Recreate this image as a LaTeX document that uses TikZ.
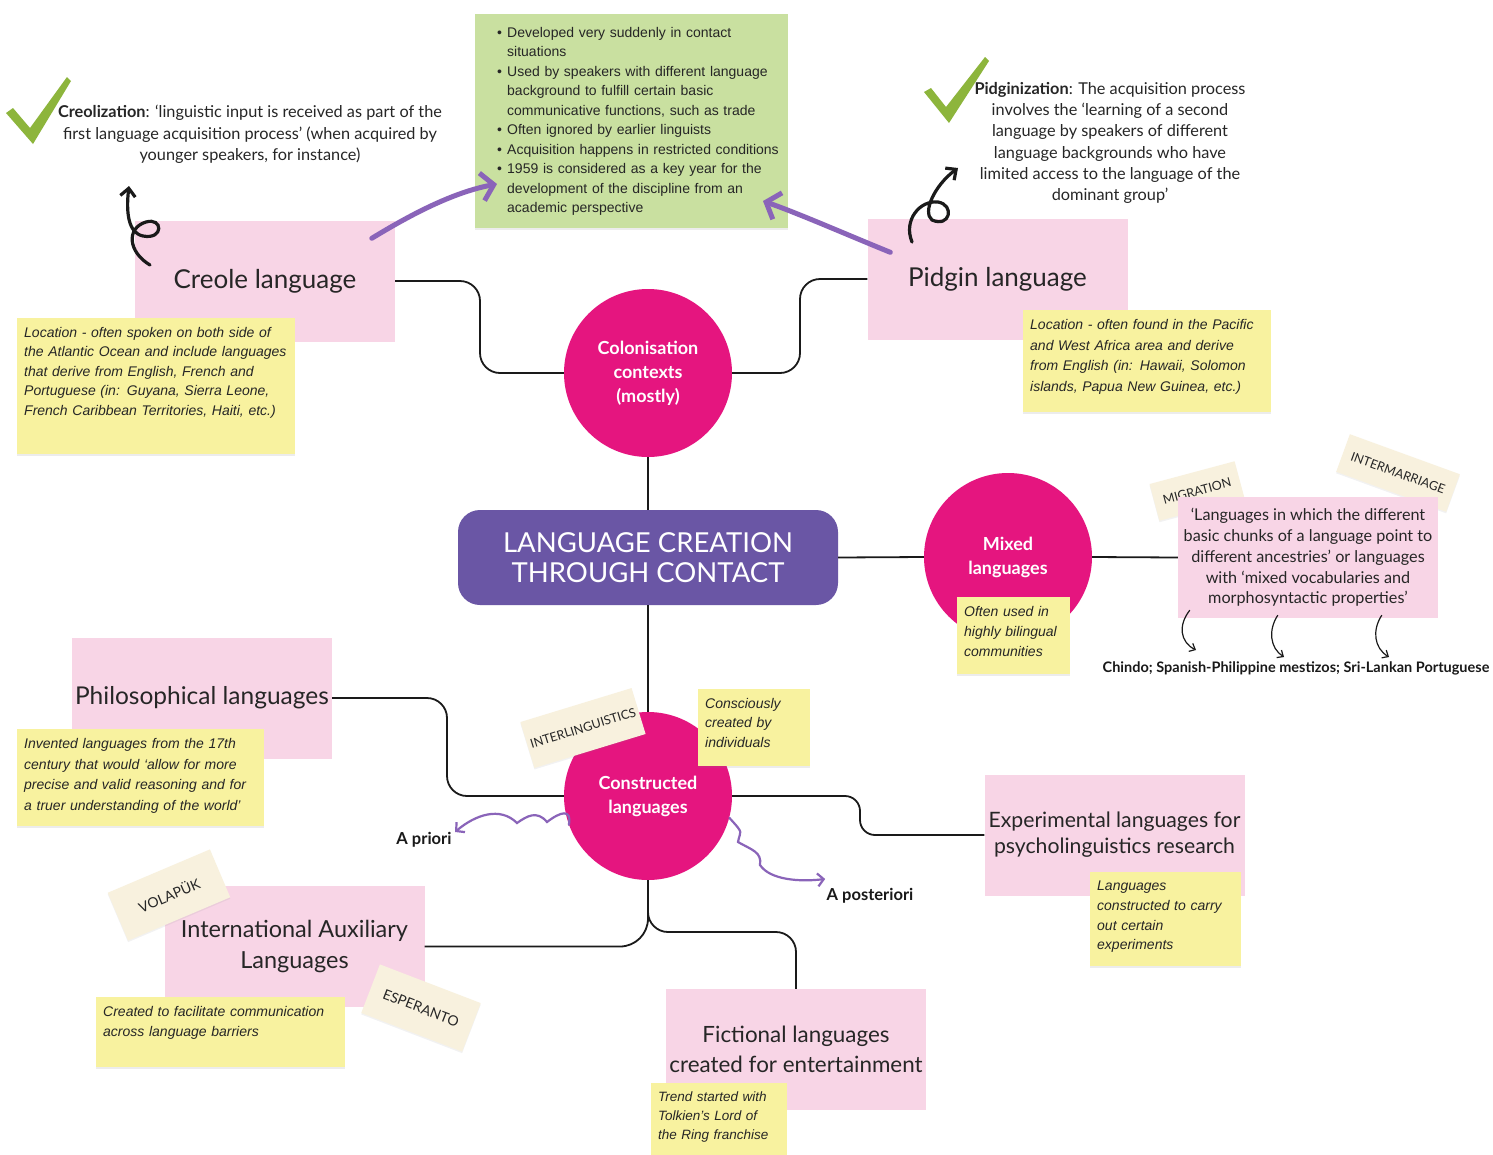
\documentclass[tikz,border=0pt]{standalone}
\usepackage{fontspec}
\setmainfont{Lato}
\newfontfamily\notefont{Liberation Sans}
\usepackage{xcolor}
\usepackage{tikz}
\usetikzlibrary{arrows.meta,shadows}

\definecolor{pinkbg}{HTML}{F8D5E6}
\definecolor{noteyel}{HTML}{F8F29F}
\definecolor{greenbg}{HTML}{C9E0A0}
\definecolor{hubmag}{HTML}{E5157F}
\definecolor{titlepurple}{HTML}{6A56A5}
\definecolor{arrpurple}{HTML}{8A64B9}
\definecolor{tagbg}{HTML}{F8F1DE}
\definecolor{checkgreen}{HTML}{8DB53C}
\definecolor{linec}{HTML}{1A1A1A}

\newcommand{\bitem}{\hspace*{15.5pt}\makebox[10pt][l]{\textbullet}}
\newcommand{\bcont}{\hspace*{25.5pt}}

\begin{document}
\begin{tikzpicture}[
  x=1pt, y=-1pt,
  pinkbox/.style={rectangle, fill=pinkbg, minimum width=260pt, minimum height=121pt, align=center, inner sep=0pt, text=black!85},
  hub/.style={circle, fill=hubmag, minimum size=168pt, inner sep=0pt, align=center, text=white, font=\fontsize{18}{24}\selectfont\bfseries},
  note/.style={rectangle, fill=noteyel, anchor=north west, align=left, inner xsep=7pt, inner ysep=9pt, text=black!85, font=\notefont\itshape\fontsize{14}{20}\selectfont, drop shadow={shadow xshift=0pt, shadow yshift=-2pt, opacity=0.15}},
  tag/.style={rectangle, fill=tagbg, text=black!85, font=\fontsize{12.5}{12.5}\selectfont, drop shadow={shadow xshift=0pt, shadow yshift=-1.5pt, opacity=0.1}},
  blurb/.style={align=center, text=black!85, font=\fontsize{16.3}{21.3}\selectfont},
  tagline/.style={text=black!90, font=\fontsize{16.5}{16.5}\selectfont\bfseries},
  link/.style={draw=linec, line width=1.8pt, rounded corners=20pt},
  bigarr/.style={draw=arrpurple, line width=5pt, line cap=round, -{Straight Barb[length=12pt, width=28pt]}},
  wavearr/.style={draw=arrpurple, line width=2.2pt, line cap=round, -{Straight Barb[length=6pt, width=13pt]}},
  curlarr/.style={draw=linec, line width=3.2pt, line cap=round, -{Straight Barb[length=8pt, width=15pt]}},
  thinarr/.style={draw=linec, line width=1.2pt, -{Straight Barb[length=5pt, width=9pt]}}
]
\fill[white] (0,0) rectangle (1493,1154);
\useasboundingbox (0,0) rectangle (1493,1154);

% top row
\fill[checkgreen] (6,113) -- (13,108) -- (30,128) -- (67,77) -- (71,81) -- (33,144) -- cycle;
\node[blurb] (creolization) at (250,134.5) {\textbf{Creolization}: ‘linguistic input is received as part of the\\ first language acquisition process’ (when acquired by\\ younger speakers, for instance)};
\fill[checkgreen] (924,92) -- (931,88) -- (946,107) -- (985,57) -- (989,61) -- (949,123) -- cycle;
\node[blurb] (pidginization) at (1110,143) {\textbf{Pidginization}: The acquisition process\\ involves the ‘learning of a second\\ language by speakers of different\\ language backgrounds who have\\ limited access to the language of the\\ dominant group’};

\node[rectangle, fill=greenbg, anchor=north west, minimum width=313pt, minimum height=214pt, text width=300pt, inner xsep=6.5pt, align=left, text=black!85, font=\notefont\fontsize{14}{19.5}\selectfont, drop shadow={shadow xshift=0pt, shadow yshift=-2pt, opacity=0.15}] (traits) at (475,14) {\bitem Developed very suddenly in contact\\ \bcont situations\\ \bitem Used by speakers with different language\\ \bcont background to fulfill certain basic\\ \bcont communicative functions, such as trade\\ \bitem Often ignored by earlier linguists\\ \bitem Acquisition happens in restricted conditions\\ \bitem 1959 is considered as a key year for the\\ \bcont development of the discipline from an\\ \bcont academic perspective};

\node[pinkbox, font=\fontsize{26}{30}\selectfont] (creole) at (265,281) {Creole language};
\node[pinkbox, font=\fontsize{26}{30}\selectfont] (pidgin) at (997.5,279) {Pidgin language};
\node[note, text width=264pt, text depth=108pt, font=\notefont\itshape\fontsize{14}{19.5}\selectfont] (creolenote) at (17,318) {Location - often spoken on both side of\\ the Atlantic Ocean and include languages\\ that derive from English, French and\\ Portuguese (in: Guyana, Sierra Leone,\\ French Caribbean Territories, Haiti, etc.)};
\node[note, text width=234pt, text depth=74pt, font=\notefont\itshape\fontsize{14}{20.7}\selectfont] (pidginnote) at (1023,310) {Location - often found in the Pacific\\ and West Africa area and derive\\ from English (in: Hawaii, Solomon\\ islands, Papua New Guinea, etc.)};

\node[hub] (colonisation) at (648,373) {Colonisation\\ contexts\\ (mostly)};

% centre
\node[rectangle, rounded corners=22pt, fill=titlepurple, minimum width=380pt, minimum height=95pt, text=white, align=center, font=\fontsize{27.5}{30}\selectfont] (title) at (648,557.5) {LANGUAGE CREATION\\ THROUGH CONTACT};

\node[hub] (mixed) at (1008,557) {Mixed\\ languages};
\node[note, text width=99pt, text depth=49pt] (mixednote) at (957,597) {Often used in\\ highly bilingual\\ communities};
\node[tag, rotate=15, minimum width=88pt, minimum height=38pt] (migration) at (1197,491) {MIGRATION};
\node[tag, rotate=-20, minimum width=117pt, minimum height=40pt] (intermarriage) at (1398,473) {INTERMARRIAGE};
\node[pinkbox, font=\fontsize{16.2}{20.7}\selectfont] (mixedbox) at (1308,557.5) {‘Languages in which the different\\ basic chunks of a language point to\\ different ancestries’ or languages\\ with ‘mixed vocabularies and\\ morphosyntactic properties’};
\node[text=black!90, font=\fontsize{14.5}{14.5}\selectfont\bfseries] (examples) at (1296,668) {Chindo; Spanish-Philippine mestizos; Sri-Lankan Portuguese};

% bottom half
\node[pinkbox, font=\fontsize{24.5}{28}\selectfont] (philo) at (202,698) {Philosophical languages};
\node[note, text width=233pt, text depth=69pt, font=\notefont\itshape\fontsize{14}{20.7}\selectfont] (philonote) at (17,729) {Invented languages from the 17th\\ century that would ‘allow for more\\ precise and valid reasoning and for\\ a truer understanding of the world’};

\node[hub] (constructed) at (648,796) {Constructed\\ languages};
\node[tag, rotate=17, minimum width=115pt, minimum height=48pt] (interling) at (583,728) {INTERLINGUISTICS};
\node[note, text width=98pt, text depth=49pt, font=\notefont\itshape\fontsize{14}{19.5}\selectfont] (conscnote) at (698,689) {Consciously\\ created by\\ individuals};

\node[tagline] (apriori) at (424,840) {A priori};
\node[tagline] (aposteriori) at (870,896) {A posteriori};

\node[pinkbox, font=\fontsize{21.2}{26}\selectfont] (experimental) at (1114.5,835) {Experimental languages for\\ psycholinguistics research};
\node[note, text width=137pt, text depth=66pt, font=\notefont\itshape\fontsize{14}{19.7}\selectfont] (expnote) at (1090,872) {Languages\\ constructed to carry\\ out certain\\ experiments};

\node[pinkbox, font=\fontsize{23.5}{31}\selectfont] (ial) at (294.5,946.5) {International Auxiliary\\ Languages};
\node[tag, rotate=23, minimum width=111pt, minimum height=52pt, font=\fontsize{14}{14}\selectfont] (volapuk) at (169,895) {VOLAPÜK};
\node[tag, rotate=-21, minimum width=108pt, minimum height=52pt, font=\fontsize{14}{14}\selectfont] (esperanto) at (421,1008) {ESPERANTO};
\node[note, text width=235pt, text depth=42pt] (ialnote) at (96,997) {Created to facilitate communication\\ across language barriers};

\node[pinkbox, font=\fontsize{22.4}{30}\selectfont] (fictional) at (796,1049.5) {Fictional languages\\ created for entertainment};
\node[note, text width=122pt, text depth=48pt, font=\notefont\itshape\fontsize{13.5}{19}\selectfont] (fictnote) at (651,1083) {Trend started with\\ Tolkien’s Lord of\\ the Ring franchise};

% connectors
\coordinate (fictbend) at (796,932);
\draw[link] (creole.east) -| (480,373) -- (colonisation.west);
\draw[link] (pidgin.west) -| (800,373) -- (colonisation.east);
\draw[link] (colonisation.south) -- (title.north);
\draw[link] (title.south) -- (constructed.north);
\draw[link] (title.east) -- (mixed.west);
\draw[link] (mixed.east) -- (mixedbox.west);
\draw[link] (philo.east) -| (447,796) -- (constructed.west);
\draw[link, rounded corners=15pt] (constructed.east) -| (860,835) -- (experimental.west);
\draw[link, rounded corners=28pt] (constructed.south) |- (ial.east);
\draw[link] (constructed.south) |- (fictbend) -- (fictional.north);

% hand-drawn arrows
\coordinate (creoletail) at (150,265);
\coordinate (pidgintail) at (912,242);
\draw[curlarr] (creoletail) .. controls (128,252) and (126,228) .. (146,222) .. controls (163,217) and (164,240) .. (143,236) .. controls (128,233) and (126,212) .. (129,186);
\draw[curlarr] (pidgintail) .. controls (903,220) and (920,200) .. (938,202) .. controls (955,205) and (950,228) .. (932,220) .. controls (922,212) and (935,185) .. (958,168);
\draw[bigarr] ([shift={(237,18)}]creole.north west) .. controls (415,212) and (455,192) .. (497,184);
\draw[bigarr] ([shift={(23,34)}]pidgin.north west) .. controls (850,236) and (800,214) .. (763,201);
\draw[wavearr] (constructed.200) .. controls (572,808) and (560,812) .. (547,822) .. controls (537,810) and (527,816) .. (517,823) .. controls (500,806) and (475,815) .. ([yshift=8pt]apriori.east);
\draw[wavearr] (constructed.-15) .. controls (745,835) and (740,830) .. (738,842) .. controls (752,850) and (762,852) .. (760,865) .. controls (770,880) and (800,882) .. ([shift={(2,-6)}]aposteriori.north west);
\draw[thinarr] ([shift={(12,-8)}]mixedbox.south west) .. controls (1178,625) and (1180,642) .. (1196,650);
\draw[thinarr] ([shift={(100,-3)}]mixedbox.south west) .. controls (1268,630) and (1270,648) .. (1284,657);
\draw[thinarr] ([shift={(204,-3)}]mixedbox.south west) .. controls (1372,630) and (1374,648) .. (1389,657);
\end{tikzpicture}
\end{document}
